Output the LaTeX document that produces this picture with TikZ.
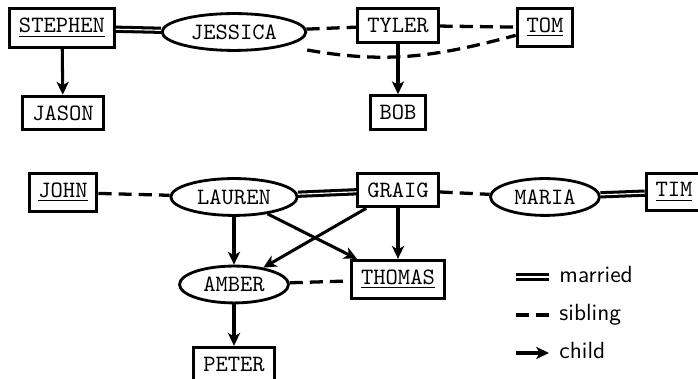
\documentclass[tikz,border=0pt]{standalone}
\usetikzlibrary{shapes.geometric,arrows.meta}
\begin{document}
\begin{tikzpicture}[x=0.4273pt,y=0.4273pt,
  every node/.style={font=\ttfamily},
  personbox/.style={draw, rectangle, line width=1.3pt, inner xsep=4pt, inner ysep=4pt},
  partner/.style={draw, ellipse, line width=1.2pt, inner xsep=3.33pt, inner ysep=2.4pt},
  wedlock/.style={double, line width=1.3pt, double distance=0.5pt},
  sibln/.style={line width=1.4pt, dash pattern=on 5.6pt off 3pt},
  offspring/.style={line width=1.3pt, -{Stealth[length=5.5pt,width=5.2pt,inset=1.5pt]}},
  legtext/.style={font=\sffamily, anchor=base west, inner sep=0pt},
]
\useasboundingbox (0,0) rectangle (698,-379);

% upper family
\node[personbox] (stephen) at (62,-28)   {\underline{STEPHEN}};
\node[partner]   (jessica) at (234,-32)  {JESSICA};
\node[personbox] (tyler)   at (398,-25.5) {TYLER};
\node[personbox] (tom)     at (545,-27.5) {\underline{TOM}};
\node[personbox] (jason)   at (63,-113)  {JASON};
\node[personbox] (bob)     at (398,-112.5) {BOB};

% lower family
\node[personbox] (john)    at (63,-192.5) {\underline{JOHN}};
\node[partner]   (lauren)  at (234,-197) {LAUREN};
\node[personbox] (graig)   at (398,-190) {GRAIG};
\node[partner]   (maria)   at (545,-197) {MARIA};
\node[personbox] (tim)     at (674,-192) {\underline{TIM}};
\node[partner]   (amber)   at (234,-284.5) {AMBER};
\node[personbox] (thomas)  at (398,-279.5) {\underline{THOMAS}};
\node[personbox] (peter)   at (234,-364) {PETER};

% relations, upper family
\draw[wedlock] (stephen) -- (jessica);
\draw[sibln] (jessica) -- (tyler);
\draw[sibln] (tyler) -- (tom);
\draw[sibln] ([yshift=-7.7pt]jessica.east) to[out=-10, in=195] (tom);
\draw[offspring] (stephen) -- (jason);
\draw[offspring] (tyler) -- (bob);

% relations, lower family
\draw[sibln] (john) -- (lauren);
\draw[wedlock] (lauren) -- (graig);
\draw[sibln] (graig) -- (maria);
\draw[wedlock] (maria) -- (tim);
\draw[offspring] (lauren) -- (amber);
\draw[offspring] (graig) -- (thomas);
\draw[offspring] (lauren) -- (thomas);
\draw[offspring] (graig) -- (amber);
\draw[sibln] (amber) -- (thomas);
\draw[offspring] (amber) -- (peter);

% legend
\coordinate (m1) at (516,-277);  \coordinate (m2) at (549,-277);
\coordinate (s1) at (516,-315);  \coordinate (s2) at (549,-315);
\coordinate (c1) at (516,-353);  \coordinate (c2) at (549,-353);
\draw[wedlock] (m1) -- (m2);
\draw[sibln] (s1) -- (s2);
\draw[offspring] (c1) -- (c2);
\node[legtext] (lm) at (559,-282.5) {married};
\node[legtext] (ls) at (559,-320.5) {sibling};
\node[legtext] (lc) at (559,-358.5) {child};
\end{tikzpicture}
\end{document}
